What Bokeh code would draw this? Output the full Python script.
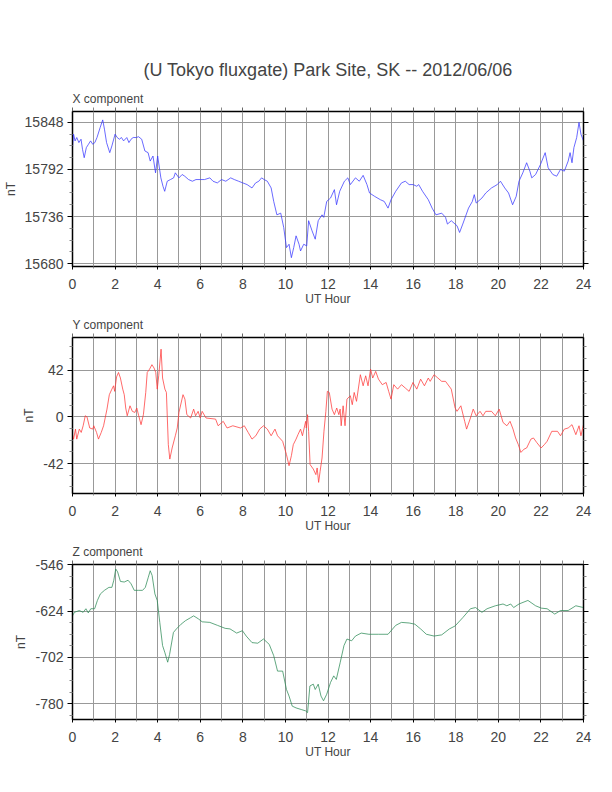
from bokeh.plotting import figure
from bokeh.layouts import column
from bokeh.models import FixedTicker, LinearAxis, Title, Range1d, CustomJSTickFormatter
from bokeh.embed import file_html
from bokeh.resources import INLINE

FONT = "Liberation Sans"

main_title = "(U Tokyo fluxgate) Park Site, SK -- 2012/06/06"
x_label = "UT Hour"
y_label = "nT"
hour_ticks = [0, 2, 4, 6, 8, 10, 12, 14, 16, 18, 20, 22, 24]
hour_minor = [1, 3, 5, 7, 9, 11, 13, 15, 17, 19, 21, 23]

# ---- X component ----
x_hours = [0.00, 0.05, 0.12, 0.2, 0.3, 0.4, 0.47, 0.55, 0.65, 0.75, 0.85, 0.95, 1.05, 1.15, 1.3,
           1.42, 1.5, 1.6, 1.75, 1.85, 2.0, 2.1, 2.2, 2.3, 2.4, 2.55, 2.65, 2.75, 2.85, 3.0,
           3.1, 3.25, 3.4, 3.55, 3.65, 3.78, 3.9, 4.0, 4.15, 4.25, 4.33, 4.45, 4.6, 4.75, 4.83,
           5.0, 5.15, 5.27, 5.45, 5.63, 5.8, 6.0, 6.2, 6.45, 6.6, 6.8, 7.0, 7.2, 7.43, 7.6,
           7.8, 8.0, 8.2, 8.43, 8.6, 8.75, 8.88, 9.0, 9.15, 9.33, 9.45, 9.6, 9.78, 9.92, 10.05,
           10.17, 10.28, 10.39, 10.5, 10.64, 10.71, 10.86, 11.0, 11.09, 11.25, 11.4, 11.54, 11.72, 11.8, 11.94,
           12.12, 12.3, 12.4, 12.55, 12.77, 12.93, 13.05, 13.29, 13.47, 13.65, 13.83, 13.95, 14.19, 14.46, 14.64,
           14.82, 14.96, 15.18, 15.45, 15.63, 15.81, 16.0, 16.17, 16.26, 16.44, 16.71, 16.89, 17.07, 17.34, 17.52,
           17.61, 17.79, 18.06, 18.18, 18.33, 18.6, 18.78, 18.87, 18.96, 19.23, 19.41, 19.68, 19.95, 20.1, 20.3,
           20.48, 20.67, 20.84, 20.97, 21.15, 21.33, 21.48, 21.57, 21.75, 21.98, 22.2, 22.34, 22.56, 22.74, 22.92,
           23.1, 23.28, 23.37, 23.46, 23.55, 23.68, 23.79, 23.88, 24.0]
x_values = [15818, 15834, 15826, 15830, 15824, 15828, 15816, 15806, 15818, 15822, 15826, 15822, 15824, 15830, 15842,
            15851, 15840, 15824, 15812, 15820, 15834, 15830, 15828, 15830, 15826, 15830, 15824, 15828, 15830, 15830,
            15831, 15828, 15814, 15812, 15802, 15808, 15788, 15808, 15782, 15772, 15766, 15778, 15780, 15782, 15788,
            15782, 15786, 15784, 15780, 15778, 15780, 15780, 15780, 15782, 15778, 15776, 15780, 15778, 15782, 15780,
            15778, 15776, 15774, 15770, 15776, 15778, 15782, 15780, 15778, 15770, 15754, 15738, 15740, 15723, 15699,
            15703, 15687, 15699, 15713, 15703, 15695, 15703, 15701, 15731, 15719, 15709, 15731, 15738, 15735, 15754,
            15758, 15768, 15750, 15766, 15778, 15782, 15774, 15782, 15778, 15785, 15774, 15764, 15760, 15756, 15754,
            15746, 15756, 15766, 15776, 15778, 15774, 15774, 15772, 15774, 15766, 15756, 15746, 15738, 15740, 15735,
            15727, 15731, 15725, 15717, 15727, 15746, 15754, 15762, 15752, 15758, 15764, 15770, 15774, 15778, 15770,
            15764, 15750, 15760, 15778, 15788, 15800, 15790, 15782, 15786, 15798, 15812, 15794, 15786, 15784, 15792,
            15790, 15802, 15812, 15800, 15818, 15830, 15848, 15834, 15826]
x_ticks = [15680, 15736, 15792, 15848]
x_minor = [15694, 15708, 15722, 15750, 15764, 15778, 15806, 15820, 15834, 15862]

# ---- Y component ----
y_hours = [0.0, 0.05, 0.14, 0.2, 0.32, 0.41, 0.5, 0.6, 0.68, 0.81, 0.95, 1.0, 1.13, 1.22, 1.35,
           1.46, 1.62, 1.73, 1.85, 1.93, 1.98, 2.07, 2.16, 2.25, 2.36, 2.43, 2.5, 2.57, 2.7, 2.81,
           2.93, 3.02, 3.11, 3.22, 3.33, 3.44, 3.51, 3.62, 3.73, 3.83, 3.91, 3.98, 4.05, 4.16, 4.23,
           4.34, 4.41, 4.5, 4.57, 4.68, 4.83, 4.92, 5.0, 5.19, 5.28, 5.37, 5.55, 5.69, 5.78, 5.9,
           6.0, 6.09, 6.27, 6.72, 6.84, 7.08, 7.26, 7.53, 7.89, 8.07, 8.25, 8.43, 8.61, 8.79, 8.97,
           9.15, 9.33, 9.51, 9.63, 9.87, 10.05, 10.17, 10.28, 10.37, 10.5, 10.59, 10.71, 10.8, 10.95, 10.98,
           11.04, 11.09, 11.16, 11.31, 11.43, 11.49, 11.56, 11.63, 11.72, 11.81, 11.9, 11.97, 12.06, 12.19, 12.3,
           12.41, 12.51, 12.57, 12.62, 12.71, 12.8, 12.89, 13.05, 13.14, 13.23, 13.34, 13.52, 13.65, 13.77, 13.88,
           14.0, 14.1, 14.24, 14.37, 14.55, 14.73, 14.85, 14.96, 15.09, 15.27, 15.45, 15.63, 15.81, 15.99, 16.17,
           16.35, 16.53, 16.71, 16.8, 16.98, 17.16, 17.34, 17.52, 17.79, 17.97, 18.06, 18.24, 18.42, 18.51, 18.69,
           18.82, 18.96, 19.14, 19.28, 19.41, 19.68, 19.86, 20.04, 20.22, 20.4, 20.55, 20.69, 20.81, 20.94, 21.06,
           21.21, 21.33, 21.53, 21.65, 21.8, 22.01, 22.16, 22.29, 22.51, 22.78, 22.92, 23.1, 23.28, 23.46, 23.64,
           23.79, 23.88, 24.0]
y_values = [-16, -20, -11, -20, -11, -14, -8, 1, 0, -10, -11, -8, -14, -20, -14,
            -8, 7, 20, 25, 28, 23, 36, 40, 35, 25, 20, 8, 1, 10, 5,
            4, 8, 1, -7, 2, 22, 40, 43, 47, 44, 40, 25, 37, 61, 35,
            25, 22, -25, -38, -28, -17, -10, 4, 20, 16, 2, -1, 7, 1, 5,
            -1, 5, -1, -2, -8, -4, -10, -8, -10, -8, -14, -20, -17, -11, -8,
            -11, -17, -11, -17, -22, -34, -44, -35, -25, -20, -16, -11, -17, -4, -10,
            2, -13, -43, -47, -52, -46, -59, -49, -37, -13, 5, 23, 22, 7, 2,
            8, 2, 7, -8, 10, -8, 16, 19, 11, 22, 14, 38, 28, 37, 28,
            43, 35, 41, 34, 29, 31, 23, 16, 29, 25, 29, 26, 23, 31, 25,
            34, 28, 35, 32, 38, 35, 32, 32, 25, 8, 5, 10, -4, -11, -1,
            7, 1, 5, 1, 5, 5, 1, 7, -5, -8, -4, -11, -19, -25, -32,
            -29, -28, -20, -19, -23, -28, -25, -22, -13, -13, -17, -11, -10, -7, -16,
            -8, -17, -7]
y_ticks = [-42, 0, 42]
y_minor = [-63, -52.5, -31.5, -21, -10.5, 10.5, 21, 31.5, 52.5, 63]

# ---- Z component ----
z_hours = [0.0, 0.09, 0.32, 0.5, 0.63, 0.74, 0.86, 1.04, 1.17, 1.31, 1.5, 1.71, 1.85, 1.94, 2.03,
           2.12, 2.25, 2.43, 2.61, 2.75, 2.9, 3.11, 3.29, 3.42, 3.56, 3.65, 3.74, 3.87, 3.98, 4.1,
           4.23, 4.34, 4.47, 4.56, 4.74, 4.88, 5.1, 5.31, 5.55, 5.69, 5.91, 6.09, 6.45, 6.81, 7.17,
           7.4, 7.71, 7.98, 8.16, 8.43, 8.7, 8.97, 9.24, 9.45, 9.63, 9.87, 10.05, 10.17, 10.32, 10.5,
           10.77, 10.95, 11.04, 11.15, 11.31, 11.4, 11.54, 11.67, 11.79, 11.94, 12.12, 12.27, 12.39, 12.57, 12.75,
           12.89, 13.11, 13.29, 13.56, 13.92, 14.37, 14.82, 15.18, 15.45, 15.81, 16.08, 16.35, 16.62, 16.98, 17.34,
           17.7, 17.97, 18.33, 18.69, 18.93, 19.23, 19.47, 19.86, 20.22, 20.4, 20.58, 20.72, 20.97, 21.39, 21.75,
           22.02, 22.29, 22.65, 22.92, 23.28, 23.64, 24.0]
z_values = [-632, -626, -623, -626, -620, -627, -620, -620, -606, -595, -589, -584, -584, -572, -553,
            -558, -574, -575, -572, -578, -589, -589, -589, -584, -567, -556, -564, -595, -606, -643,
            -682, -694, -710, -697, -660, -654, -646, -640, -635, -632, -637, -642, -643, -648, -653,
            -654, -661, -657, -666, -677, -678, -671, -680, -699, -725, -725, -756, -767, -784, -787,
            -790, -792, -795, -750, -747, -756, -747, -767, -775, -764, -744, -733, -739, -711, -682,
            -671, -674, -666, -661, -663, -663, -663, -648, -643, -644, -646, -654, -663, -666, -664,
            -654, -649, -635, -620, -618, -626, -620, -615, -612, -615, -612, -618, -612, -606, -615,
            -619, -620, -629, -623, -623, -615, -618]
z_ticks = [-780, -702, -624, -546]
z_minor = [-799.5, -760.5, -741, -721.5, -682.5, -663, -643.5, -604.5, -585, -565.5]


def make_panel(hours, values, color, comp_label, y_lo, y_hi, yt, ym, frame_h, top_border, title_text=None):
    p = figure(frame_width=511, frame_height=frame_h,
               x_range=Range1d(0, 24), y_range=Range1d(y_lo, y_hi),
               output_backend="svg", toolbar_location=None, title=None,
               min_border_left=63, min_border_right=30,
               min_border_top=top_border, min_border_bottom=46,
               background_fill_color="white", border_fill_color="white")
    p.outline_line_color = "black"
    p.outline_line_width = 1.5

    # grids
    p.xgrid.ticker = FixedTicker(ticks=sorted(hour_ticks + hour_minor))
    p.xgrid.grid_line_color = "#999999"
    p.xgrid.grid_line_width = 1
    p.ygrid.ticker = FixedTicker(ticks=yt)
    p.ygrid.grid_line_color = "#999999"
    p.ygrid.grid_line_width = 1

    # bottom axis
    xa = p.xaxis[0]
    xa.ticker = FixedTicker(ticks=hour_ticks, minor_ticks=hour_minor)
    xa.axis_label = x_label
    xa.axis_label_text_font = FONT
    xa.axis_label_text_font_size = "12px"
    xa.axis_label_text_font_style = "normal"
    xa.axis_label_standoff = 0
    xa.major_label_text_font = FONT
    xa.major_label_text_font_size = "14px"
    xa.major_label_standoff = 9
    xa.major_tick_out = 3
    xa.major_tick_in = 0
    xa.minor_tick_out = 2
    xa.minor_tick_in = 0
    xa.minor_tick_line_color = "#888888"
    xa.axis_line_color = "black"

    # left axis
    ya = p.yaxis[0]
    ya.ticker = FixedTicker(ticks=yt, minor_ticks=ym)
    ya.formatter = CustomJSTickFormatter(code="return String(Math.round(tick))")
    ya.axis_label = y_label
    ya.axis_label_text_font = FONT
    ya.axis_label_text_font_size = "12px"
    ya.axis_label_text_font_style = "normal"
    ya.axis_label_standoff = 4
    ya.major_label_text_font = FONT
    ya.major_label_text_font_size = "14px"
    ya.major_label_standoff = 4
    ya.major_tick_out = 5
    ya.major_tick_in = 0
    ya.minor_tick_out = 3
    ya.minor_tick_in = 0
    ya.minor_tick_line_color = "#888888"
    ya.axis_line_color = "black"

    # right axis (ticks only)
    ra = LinearAxis(ticker=FixedTicker(ticks=yt, minor_ticks=ym),
                    formatter=CustomJSTickFormatter(code="return ''"),
                    major_tick_out=5, major_tick_in=0, minor_tick_out=3, minor_tick_in=0,
                    minor_tick_line_color="#888888", major_label_standoff=0,
                    major_label_text_font_size="1px")
    p.add_layout(ra, "right")

    # top axis (ticks only)
    ta = LinearAxis(ticker=FixedTicker(ticks=hour_ticks, minor_ticks=hour_minor),
                    formatter=CustomJSTickFormatter(code="return ''"),
                    major_tick_out=4, major_tick_in=0, minor_tick_out=4, minor_tick_in=0,
                    minor_tick_line_color="#888888", major_tick_line_color="#666666",
                    major_label_standoff=0, major_label_text_font_size="1px")
    p.add_layout(ta, "above")

    p.add_layout(Title(text=comp_label, align="left", text_font=FONT, text_font_size="12px",
                       text_font_style="normal", standoff=3), "above")
    if title_text:
        p.add_layout(Title(text=title_text, align="center", text_font=FONT, text_font_size="18px",
                           text_font_style="normal", standoff=17), "above")

    p.line(hours, values, line_color=color, line_width=0.75)
    return p


p1 = make_panel(x_hours, x_values, "#3838ff", "X component", 15676.5, 15861, x_ticks, x_minor, 155, 111, main_title)
p2 = make_panel(y_hours, y_values, "#ff3838", "Y component", -69, 71.5, y_ticks, y_minor, 156, 25)
p3 = make_panel(z_hours, z_values, "#2e8b57", "Z component", -806.5, -545.5, z_ticks, z_minor, 155, 25)

layout = column(p1, p2, p3, spacing=0)
open("out.html", "w").write(file_html(layout, INLINE))
